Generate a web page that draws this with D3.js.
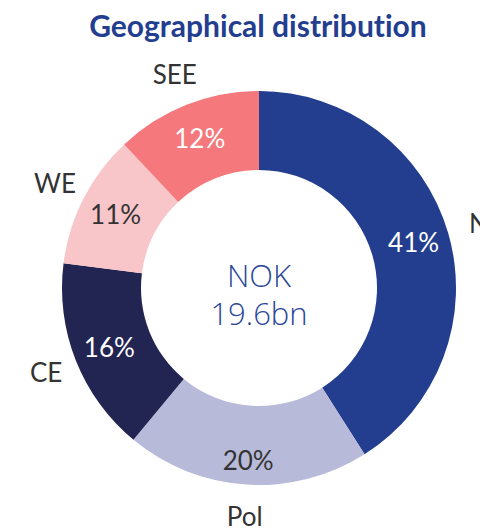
<!DOCTYPE html>
<html>
<head>
<meta charset="utf-8">
<script src="https://cdn.jsdelivr.net/npm/d3@7"></script>
<style>
  body { margin: 0; background: #fff; }
  text { font-variant-ligatures: none; }
</style>
</head>
<body>
<script>
// chart data
const regions = ["N", "Pol", "CE", "WE", "SEE"];
const shares = [41, 20, 16, 11, 12];
const colors = ["#233D8F", "#B8BAD9", "#222452", "#F8C5C9", "#F5797C"];
const labelColors = ["#fff", "#333", "#fff", "#333", "#fff"];
const centerLines = ["NOK", "19.6bn"];

const width = 480;
const height = 529;
const cx = 259, cy = 288;
const outerR = 197, innerR = 118;

const svg = d3.select("body").append("svg")
  .attr("width", width)
  .attr("height", height);

svg.append("text")
  .attr("x", 258)
  .attr("y", 37)
  .attr("text-anchor", "middle")
  .attr("fill", "#233D8F")
  .style("font-family", "Lato, sans-serif")
  .style("font-weight", "bold")
  .style("font-size", "30px")
  .text("Geographical distribution");

const data = regions.map((r, i) => ({ region: r, value: shares[i], i }));

const pie = d3.pie()
  .value(d => d.value)
  .sort(null);

const arc = d3.arc()
  .innerRadius(innerR)
  .outerRadius(outerR);

const arcs = pie(data);

const g = svg.append("g")
  .attr("transform", `translate(${cx},${cy})`);

g.selectAll("path")
  .data(arcs)
  .enter()
  .append("path")
    .attr("d", arc)
    .attr("fill", d => colors[d.data.i]);

// percentage labels inside the ring
const pctArc = d => {
  const r = d.data.region === "Pol" ? 173 : 161;
  return d3.arc().innerRadius(r).outerRadius(r).centroid(d);
};

g.selectAll("text.pct")
  .data(arcs)
  .enter()
  .append("text")
    .attr("class", "pct")
    .attr("transform", d => `translate(${pctArc(d)})`)
    .attr("text-anchor", "middle")
    .attr("dy", "0.36em")
    .attr("fill", d => labelColors[d.data.i])
    .style("font-family", "Lato, sans-serif")
    .style("font-size", "26px")
    .text(d => d.data.value + "%");

// category labels outside
const outArc = d3.arc().innerRadius(229).outerRadius(229);

g.selectAll("text.cat")
  .data(arcs)
  .enter()
  .append("text")
    .attr("class", "cat")
    .attr("transform", d => `translate(${outArc.centroid(d)})`)
    .attr("text-anchor", "middle")
    .attr("dy", "0.36em")
    .attr("fill", "#333")
    .style("font-family", "Lato, sans-serif")
    .style("font-size", "26px")
    .text(d => d.data.region);

// centre text
g.selectAll("text.center")
  .data(centerLines)
  .enter()
  .append("text")
    .attr("class", "center")
    .attr("x", 0)
    .attr("y", (d, i) => i === 0 ? -1 : 37)
    .attr("text-anchor", "middle")
    .attr("fill", "#2C4799")
    .style("font-family", "'Open Sans', sans-serif")
    .style("font-weight", 300)
    .style("font-size", "31px")
    .text(d => d);
</script>
</body>
</html>
